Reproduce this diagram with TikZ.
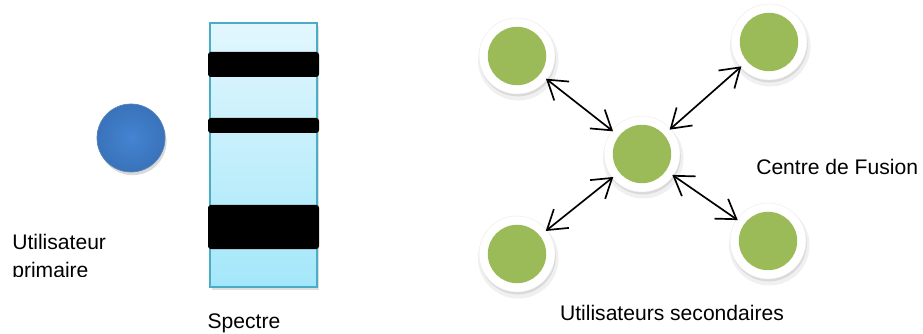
\documentclass[tikz,border=0pt]{standalone}
\usepackage{fontspec}
\setmainfont{Liberation Sans}
\usetikzlibrary{arrows.meta, positioning, shadows}

\definecolor{sugreen}{RGB}{155,187,89}
\definecolor{publue}{RGB}{68,132,210}
\definecolor{pudark}{RGB}{50,103,170}
\definecolor{specedge}{RGB}{75,172,198}
\definecolor{spectop}{RGB}{226,247,253}
\definecolor{specbot}{RGB}{164,231,250}

\begin{document}
\begin{tikzpicture}[
    label/.style={font=\fontsize{15}{19.8}\selectfont, inner sep=0pt},
    pubase/.style={circle, minimum size=1.7cm, inner sep=0pt,
                   fill=publue, draw=pudark!80, line width=0.5pt,
                   drop shadow={opacity=0.3, shadow xshift=0.04cm, shadow yshift=-0.08cm},
                   path picture={\shade[inner color=publue, outer color=pudark]
                       (path picture bounding box.center) circle (1.4cm);}},
    specbox/.style={rectangle, draw=specedge, line width=0.9pt,
                    minimum width=2.675cm, minimum height=6.6cm, inner sep=0pt,
                    top color=spectop, bottom color=specbot,
                    drop shadow={opacity=0.25, shadow xshift=0.05cm, shadow yshift=-0.08cm}},
    band/.style={rectangle, fill=black, rounded corners=2pt,
                 minimum width=2.775cm, inner sep=0pt},
    sunode/.style={circle, fill=white, draw=black!8, line width=0.3pt,
                   minimum size=1.9cm, inner sep=0pt,
                   drop shadow={opacity=0.12, shadow scale=1.06, shadow xshift=0.03cm, shadow yshift=-0.1cm},
                   drop shadow={opacity=0.2, shadow xshift=0.02cm, shadow yshift=-0.06cm},
                   path picture={\fill[sugreen] (path picture bounding box.center) circle (0.73cm);}},
    link/.style={{Straight Barb[length=4.6mm, width=6mm]}-{Straight Barb[length=4.6mm, width=6mm]},
                 line width=1.2pt, black, shorten <=-1pt, shorten >=-1pt},
]
    \useasboundingbox (0,0) rectangle (23.075,-8.35);

    % primary user and the spectrum with its occupied bands
    \node[pubase] (pu) at (3.275,-3.45) {};
    \node[specbox] (spec) at (6.5875,-3.875) {};
    \node[band, minimum height=0.625cm] (band1) at (6.5875,-1.6125) {};
    \node[band, minimum height=0.375cm] (band2) at (6.5875,-3.1375) {};
    \node[band, minimum height=1.1cm]   (band3) at (6.5875,-5.675) {};

    \node[label] (spectre) at (6.1,-8.075) {Spectre};
    \begin{scope}
        \clip (0,-5.5) rectangle (4.5,-6.92);
        \node[label, align=left, anchor=north west] (primlbl) at (0.3,-5.86)
            {Utilisateur\\primaire};
    \end{scope}

    % secondary users around the fusion centre
    \node[sunode] (fc) at (16.05,-3.85) {};
    \node[sunode] (su1) at (12.925,-1.4) {};
    \node[sunode] (su2) at (19.225,-1.05) {};
    \node[sunode] (su3) at (12.925,-6.35) {};
    \node[sunode] (su4) at (19.2,-6.025) {};

    \draw[link] (su1) -- (fc);
    \draw[link] (su2) -- (fc);
    \draw[link] (su3) -- (fc);
    \draw[link] (su4) -- (fc);

    \node[label, anchor=west] (fclbl) at (18.9,-4.175) {Centre de Fusion};
    \node[label] (sulbl) at (16.8,-7.825) {Utilisateurs secondaires};
\end{tikzpicture}
\end{document}
